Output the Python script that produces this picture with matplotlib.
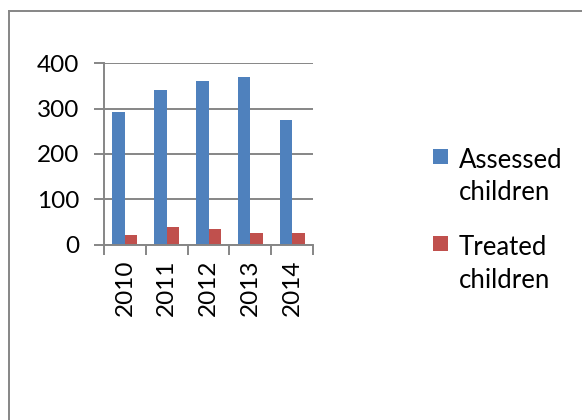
import matplotlib
matplotlib.use("Agg")
import matplotlib.pyplot as plt
from matplotlib.patches import Rectangle
from matplotlib.lines import Line2D
import numpy as np

years = ["2010", "2011", "2012", "2013", "2014"]
assessed = [293, 341, 360, 369, 274]
treated = [21, 40, 35, 26, 26]
series_names = ["Assessed\nchildren", "Treated\nchildren"]
colors = ["#4F81BD", "#C0504D"]
yticks = [0, 100, 200, 300, 400]

W, H = 582, 420
fig = plt.figure(figsize=(W / 100, H / 100), dpi=100)
fig.patch.set_facecolor("white")

FONT = "Lato"
GRID = "#868686"

ax = fig.add_axes([104 / W, 1 - 244.7 / H, (313 - 104) / W, (244.7 - 63.3) / H])
x = np.arange(len(years))
bw = 0.3
ax.bar(x - bw / 2, assessed, width=bw, color=colors[0], zorder=3)
ax.bar(x + bw / 2, treated, width=bw, color=colors[1], zorder=3)

ax.set_xlim(-0.5, len(years) - 0.5)
ax.set_ylim(0, 400)
ax.set_yticks(yticks)
ax.set_yticklabels([str(v) for v in yticks], fontfamily=FONT, fontsize=17.5)
ax.yaxis.grid(True, color=GRID, linewidth=1.4, zorder=0)
ax.tick_params(axis="y", length=7, width=1.4, color=GRID, pad=11)

# category boundary ticks
ax.set_xticks(np.arange(len(years) + 1) - 0.5)
ax.set_xticklabels([])
ax.tick_params(axis="x", which="major", length=7, width=1.4, color=GRID)
ax.set_xticks(x, minor=True)
ax.set_xticklabels(years, minor=True, rotation=90, fontfamily=FONT, fontsize=17.5)
ax.tick_params(axis="x", which="minor", length=0, pad=11)

for s in ["top", "right"]:
    ax.spines[s].set_visible(False)
for s in ["left", "bottom"]:
    ax.spines[s].set_color(GRID)
    ax.spines[s].set_linewidth(1.4)
ax.spines["bottom"].set_zorder(4)

# chart frame (top and left only visible)
fig.add_artist(Line2D([8.5 / W, 1.0], [1 - 10.5 / H, 1 - 10.5 / H], transform=fig.transFigure, color=GRID, linewidth=1.4))
fig.add_artist(Line2D([8.5 / W, 8.5 / W], [0, 1 - 10.5 / H], transform=fig.transFigure, color=GRID, linewidth=1.4))

# legend
legend_tops = [148.5, 236]
for name, col, top in zip(series_names, colors, legend_tops):
    fig.add_artist(Rectangle((433 / W, 1 - (top + 15) / H), 15 / W, 15 / H, transform=fig.transFigure,
                             facecolor=col, edgecolor="none"))
    fig.text(459 / W, 1 - (top - 1) / H, name, fontfamily=FONT, fontsize=18.5, va="top", ha="left",
             linespacing=1.4)

fig.savefig("out.png", dpi=100)
